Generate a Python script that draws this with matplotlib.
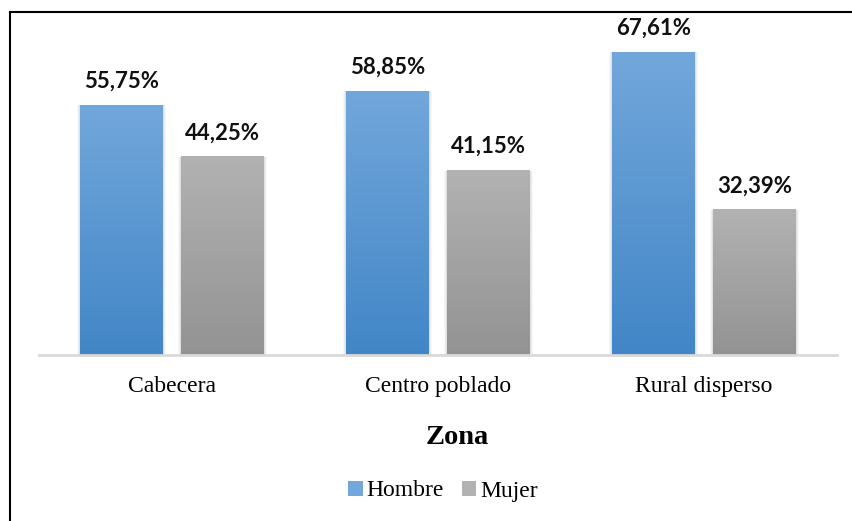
import numpy as np
import matplotlib.pyplot as plt
from matplotlib.lines import Line2D
from matplotlib.patches import Patch

# data
zonas = ["Cabecera", "Centro poblado", "Rural disperso"]
hombre = [55.75, 58.85, 67.61]
mujer = [44.25, 41.15, 32.39]
series = ["Hombre", "Mujer"]

W, H = 852, 521
fig = plt.figure(figsize=(W / 100, H / 100), dpi=100)
fig.patch.set_facecolor("white")

# axes in pixel positions (left 39, right 837, bottom 355, top 20)
ax = fig.add_axes([39 / W, 1 - 355 / H, (837 - 39) / W, (355 - 20) / H])

grad_colors = {
    "Hombre": ("#72A7DB", "#4286C7"),
    "Mujer": ("#B2B2B2", "#939393"),
}

bar_w = 0.312
offset = 0.19
x = np.arange(len(zonas))


def gradient_bars(xpos, vals, name):
    top, bot = grad_colors[name]
    bars = ax.bar(xpos, vals, bar_w, color=bot, zorder=2, linewidth=0)
    c1 = np.array(plt.matplotlib.colors.to_rgb(top))
    c2 = np.array(plt.matplotlib.colors.to_rgb(bot))
    t = np.linspace(0, 1, 256)[:, None]
    img = (c1 * (1 - t) + c2 * t)[:, None, :]
    for b in bars:
        x0, w, h = b.get_x(), b.get_width(), b.get_height()
        # soft shadow
        for k, a in enumerate([0.05, 0.04, 0.03]):
            d = 0.004 * (k + 1)
            ax.bar(x0 + w / 2, h + 0.25 * (k + 1), w + 2 * d, bottom=-0.25 * (k + 1),
                   color="black", alpha=a, linewidth=0, zorder=1)
        ax.imshow(img, extent=(x0, x0 + w, 0, h), aspect="auto", zorder=3,
                  interpolation="bilinear")
        ax.text(x0 + w / 2, h + 3.9, f"{h:.2f}%".replace(".", ","), ha="center",
                va="baseline", fontsize=16, fontweight="bold", family="Lato",
                color="#111111")
    return bars


gradient_bars(x - offset, hombre, "Hombre")
gradient_bars(x + offset, mujer, "Mujer")
ax.set_xlim(-0.5, 2.5)
ax.set_ylim(0, 335 / 4.48)

for s in ["top", "right", "left"]:
    ax.spines[s].set_visible(False)
ax.spines["bottom"].set_color("#D9D9D9")
ax.spines["bottom"].set_linewidth(2)
ax.spines["bottom"].set_zorder(4)
ax.set_yticks([])
ax.set_xticks(x)
ax.set_xticklabels(zonas, family="Liberation Serif", fontsize=17)
ax.tick_params(axis="x", length=0, pad=15)

# axis title
fig.text(457.5 / W, 1 - 438 / H, "Zona", ha="center", va="center",
         family="Liberation Serif", fontsize=20.5, fontweight="bold")

handles = [Patch(facecolor=grad_colors[n][0], edgecolor="none") for n in series]
fig.legend(handles, series, loc="center", bbox_to_anchor=(443 / W, 1 - 491 / H),
           ncol=2, frameon=False, prop={"family": "Liberation Serif", "size": 17},
           handlelength=0.6, handleheight=0.6, handletextpad=0.15, columnspacing=0.8)

# outer frame (left and top edges visible)
fig.add_artist(Line2D([10 / W, 10 / W], [0, 1 - 12 / H], color="black", lw=1.5))
fig.add_artist(Line2D([10 / W, 1], [1 - 12 / H, 1 - 12 / H], color="black", lw=1.5))

fig.savefig("out.png", dpi=100)
